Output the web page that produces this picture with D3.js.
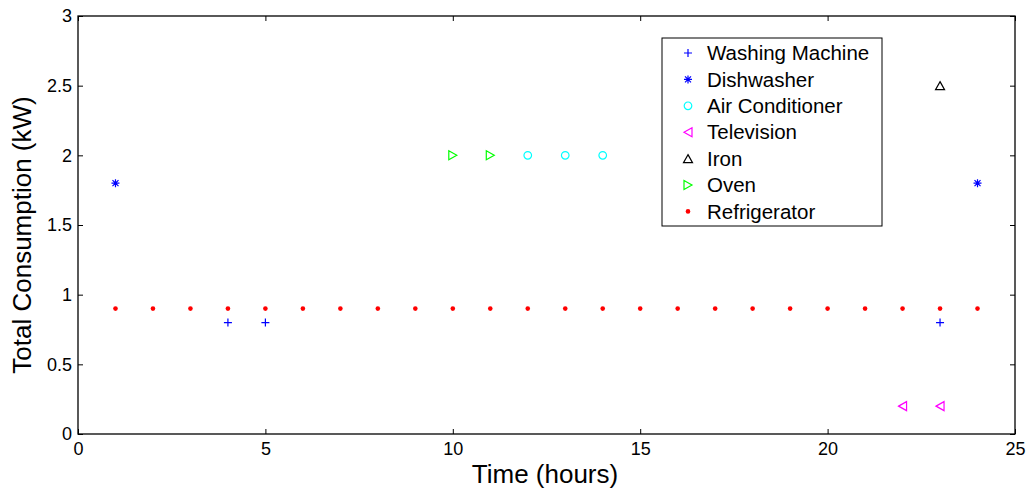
<!DOCTYPE html>
<html>
<head>
<meta charset="utf-8">
<script src="https://cdn.jsdelivr.net/npm/d3@7"></script>
<style>
  body { margin: 0; background: #fff; }
  svg { display: block; font-family: "Liberation Sans", Arial, sans-serif; }
</style>
</head>
<body>
<div id="chart"></div>
<script>
const xTicks = [0, 5, 10, 15, 20, 25]
const yTicks = [0, 0.5, 1, 1.5, 2, 2.5, 3]

const washingHours = [4, 5, 23]
const washingValues = [0.8, 0.8, 0.8]
const dishHours = [1, 24]
const dishValues = [1.8, 1.8]
const acHours = [12, 13, 14]
const acValues = [2, 2, 2]
const tvHours = [22, 23]
const tvValues = [0.2, 0.2]
const ironHours = [23]
const ironValues = [2.5]
const ovenHours = [10, 11]
const ovenValues = [2, 2]
const fridgeHours = [1, 2, 3, 4, 5, 6, 7, 8, 9, 10, 11, 12, 13, 14, 15, 16, 17, 18, 19, 20, 21, 22, 23, 24]
const fridgeValues = [0.9, 0.9, 0.9, 0.9, 0.9, 0.9, 0.9, 0.9, 0.9, 0.9, 0.9, 0.9, 0.9, 0.9, 0.9, 0.9, 0.9, 0.9, 0.9, 0.9, 0.9, 0.9, 0.9, 0.9]

const series = [
  { name: "Washing Machine", hours: washingHours, values: washingValues, marker: "plus", color: "#0000ff" },
  { name: "Dishwasher", hours: dishHours, values: dishValues, marker: "star", color: "#0000ff" },
  { name: "Air Conditioner", hours: acHours, values: acValues, marker: "circle", color: "#00ffff" },
  { name: "Television", hours: tvHours, values: tvValues, marker: "left", color: "#ff00ff" },
  { name: "Iron", hours: ironHours, values: ironValues, marker: "up", color: "#000000" },
  { name: "Oven", hours: ovenHours, values: ovenValues, marker: "right", color: "#00ff00" },
  { name: "Refrigerator", hours: fridgeHours, values: fridgeValues, marker: "dot", color: "#ff0000" }
]

const width = 1028
const height = 494
const margin = { top: 16, right: 13, bottom: 60, left: 78 }

const svg = d3.select("#chart")
  .append("svg")
  .attr("width", width)
  .attr("height", height)

const x = d3.scaleLinear()
  .domain([0, 25])
  .range([margin.left, width - margin.right])

const y = d3.scaleLinear()
  .domain([0, 3])
  .range([height - margin.bottom, margin.top])

// Frame with inward ticks on every side
const axisStyle = g => {
  g.select(".domain").remove()
  g.selectAll("text").attr("fill", "#000").style("font-size", "18px")
  g.selectAll("line").attr("stroke", "#000")
}

svg.append("g")
  .attr("transform", `translate(0,${y(0)})`)
  .call(d3.axisBottom(x).tickValues(xTicks).tickSizeInner(-5).tickPadding(8).tickFormat(d3.format("d")))
  .call(axisStyle)

svg.append("g")
  .attr("transform", `translate(0,${y(3)})`)
  .call(d3.axisTop(x).tickValues(xTicks).tickSizeInner(-5).tickFormat(""))
  .call(axisStyle)

svg.append("g")
  .attr("transform", `translate(${x(0)},0)`)
  .call(d3.axisLeft(y).tickValues(yTicks).tickSizeInner(-5).tickPadding(6).tickFormat(d => d))
  .call(axisStyle)

svg.append("g")
  .attr("transform", `translate(${x(25)},0)`)
  .call(d3.axisRight(y).tickValues(yTicks).tickSizeInner(-5).tickFormat(""))
  .call(axisStyle)

svg.append("rect")
  .attr("x", x(0))
  .attr("y", y(3))
  .attr("width", x(25) - x(0))
  .attr("height", y(0) - y(3))
  .attr("fill", "none")
  .attr("stroke", "#000")
  .attr("stroke-width", 1.3)

// Markers
function drawMarker(g, type, color) {
  if (type === "plus") {
    g.append("path").attr("d", "M-4,0H4M0,-4V4").attr("stroke", color).attr("stroke-width", 1.2).attr("fill", "none")
  } else if (type === "star") {
    g.append("path").attr("d", "M-4,0H4M0,-4V4M-3,-3L3,3M-3,3L3,-3").attr("stroke", color).attr("stroke-width", 1.2).attr("fill", "none")
  } else if (type === "circle") {
    g.append("circle").attr("r", 3.8).attr("stroke", color).attr("stroke-width", 1.2).attr("fill", "none")
  } else if (type === "left") {
    g.append("path").attr("d", "M-4,0L4,-4.5L4,4.5Z").attr("stroke", color).attr("stroke-width", 1.2).attr("fill", "none")
  } else if (type === "right") {
    g.append("path").attr("d", "M4,0L-4,-4.5L-4,4.5Z").attr("stroke", color).attr("stroke-width", 1.2).attr("fill", "none")
  } else if (type === "up") {
    g.append("path").attr("d", "M0,-4L4.5,4L-4.5,4Z").attr("stroke", color).attr("stroke-width", 1.2).attr("fill", "none")
  } else if (type === "dot") {
    g.append("circle").attr("r", 2.3).attr("fill", color)
  }
}

series.forEach(s => {
  s.hours.forEach((h, i) => {
    const g = svg.append("g").attr("transform", `translate(${x(h)},${y(s.values[i])})`)
    drawMarker(g, s.marker, s.color)
  })
})

// Axis labels
svg.append("text")
  .attr("x", 545)
  .attr("y", 483)
  .attr("text-anchor", "middle")
  .style("font-size", "26px")
  .text("Time (hours)")

svg.append("text")
  .attr("transform", `translate(31,${(y(0) + y(3)) / 2 + 10}) rotate(-90)`)
  .attr("text-anchor", "middle")
  .style("font-size", "26px")
  .text("Total Consumption (kW)")

// Legend
const legend = svg.append("g").attr("transform", "translate(662,38)")
legend.append("rect")
  .attr("width", 220)
  .attr("height", 188)
  .attr("fill", "#fff")
  .attr("stroke", "#000")
  .attr("stroke-width", 1)

series.forEach((s, i) => {
  const row = legend.append("g").attr("transform", `translate(26,${15 + i * 26.4})`)
  drawMarker(row, s.marker, s.color)
  row.append("text")
    .attr("x", 19)
    .attr("dy", "0.35em")
    .style("font-size", "20.5px")
    .text(s.name)
})
</script>
</body>
</html>
